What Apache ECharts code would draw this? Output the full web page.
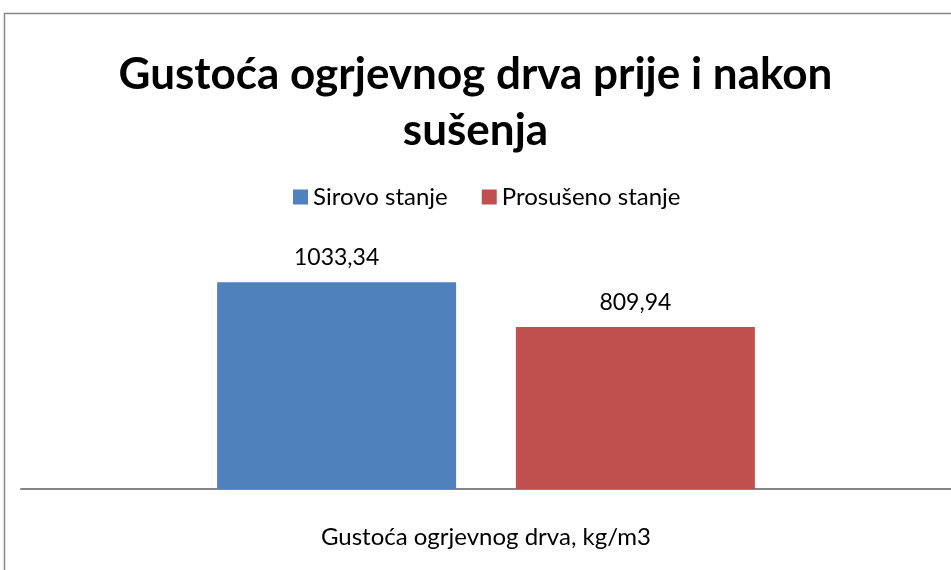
<!DOCTYPE html>
<html>
<head>
<meta charset="utf-8">
<script src="https://cdn.jsdelivr.net/npm/echarts@6/dist/echarts.min.js"></script>
<style>
  html, body { margin: 0; padding: 0; background: #fff; }
  #chart { width: 951px; height: 570px; }
</style>
</head>
<body>
<div id="chart"></div>
<script>
var categories = ['Gustoća ogrjevnog drva, kg/m3']
var seriesNames = ['Sirovo stanje', 'Prosušeno stanje']
var sirovo = [1033.34]
var prosuseno = [809.94]
var colors = ['#4f81bd', '#c0504d']

var myChart = echarts.init(document.getElementById('chart'))

function fmt(p) {
  return p.value.toFixed(2).replace('.', ',')
}

var option = {
  animation: false,
  title: {
    text: 'Gustoća ogrjevnog drva prije i nakon\nsušenja',
    left: 'center',
    top: 42,
    textStyle: {
      fontFamily: 'Lato',
      fontWeight: 'bold',
      fontSize: 44,
      lineHeight: 56,
      color: '#000'
    }
  },
  legend: {
    top: 180,
    left: 288,
    itemWidth: 15,
    itemHeight: 15,
    itemGap: 34,
    icon: 'rect',
    textStyle: { fontFamily: 'Lato', fontSize: 24, color: '#000' },
    data: seriesNames
  },
  graphic: [
    {
      type: 'rect',
      shape: { x: 4.5, y: 13.5, width: 1000, height: 600 },
      style: { fill: 'none', stroke: '#888', lineWidth: 1.5 },
      silent: true
    }
  ],
  grid: { left: 21, right: -5, top: 249, bottom: 81, containLabel: false },
  xAxis: {
    type: 'category',
    data: categories,
    axisLine: { lineStyle: { color: '#868686', width: 2 } },
    axisTick: { show: false },
    axisLabel: { margin: 36, fontFamily: 'Lato', fontSize: 24, color: '#000' }
  },
  yAxis: {
    type: 'value',
    min: 0,
    max: 1200,
    show: false,
    splitLine: { show: false }
  },
  series: [
    {
      name: seriesNames[0],
      type: 'bar',
      data: sirovo,
      barWidth: 239,
      barGap: '25%',
      itemStyle: { color: colors[0] },
      label: { show: true, position: 'top', distance: 13, formatter: fmt, fontFamily: 'Lato', fontSize: 23, color: '#000' }
    },
    {
      name: seriesNames[1],
      type: 'bar',
      data: prosuseno,
      barWidth: 239,
      itemStyle: { color: colors[1] },
      label: { show: true, position: 'top', distance: 13, formatter: fmt, fontFamily: 'Lato', fontSize: 23, color: '#000' }
    }
  ]
}
option && myChart.setOption(option)
</script>
</body>
</html>
